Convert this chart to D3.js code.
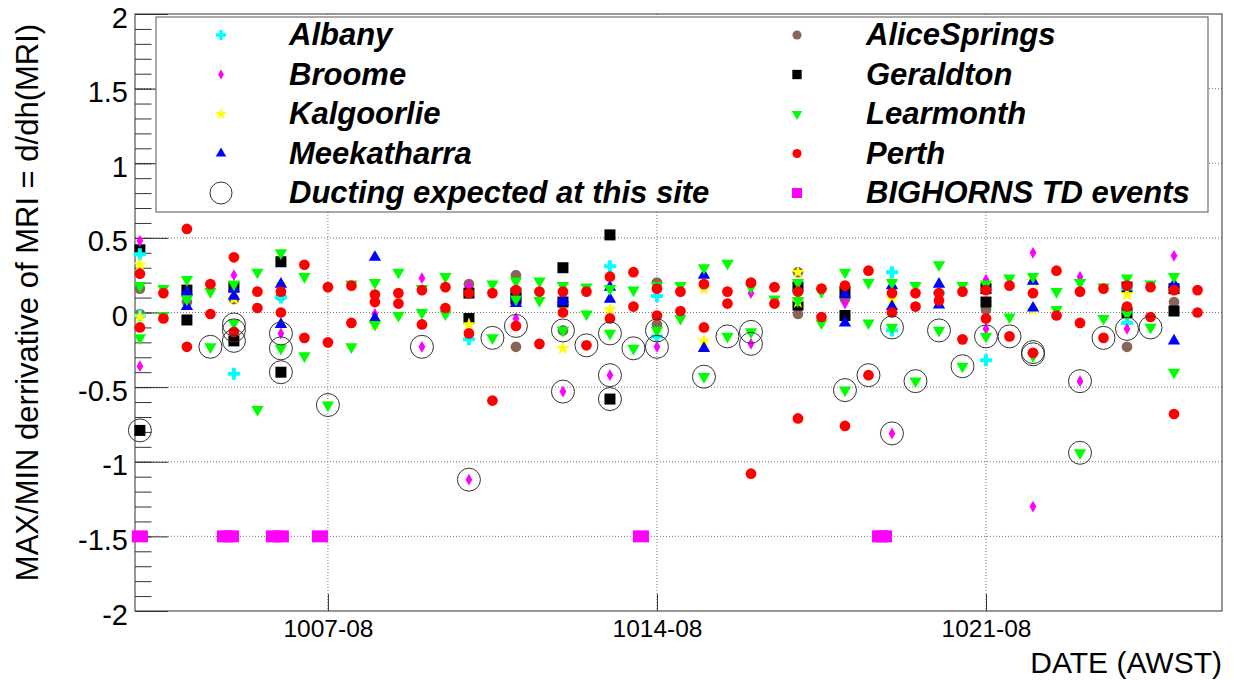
<!DOCTYPE html>
<html>
<head>
<meta charset="utf-8">
<title>MAX/MIN derivative of MRI</title>
<script src="https://d3js.org/d3.v7.min.js"></script>
<style>
  body { margin: 0; background: #fff; }
  text { font-family: Arial, "Liberation Sans", sans-serif; fill: #000; }
  .legend text { font-weight: bold; font-style: italic; font-size: 31px; }
  .grid line { stroke: #777; stroke-dasharray: 1,2; }
  .ytick text { font-size: 29px; }
  .xtick text { font-size: 24.5px; }
</style>
</head>
<body>
<div id="chart"></div>
<script>
// rows: [sounding (MMDD-HH), max derivative, min derivative]
var albany = [["1003-08",0.39,-0.02],["1005-08",null,-0.41],["1006-08",0.10,null],["1010-08",null,-0.18],
  ["1013-08",0.31,null],["1014-08",0.11,-0.16],["1019-08",0.27,-0.12],["1020-08",0.13,null],
  ["1021-08",null,-0.32],["1024-08",0.16,-0.07]];
var broome = [["1003-08",0.48,-0.36],["1005-08",0.25,null],["1006-08",null,-0.14],["1008-08",null,-0.01],
  ["1009-08",0.23,-0.23],["1010-08",0.18,-1.12],["1011-08",null,-0.04],["1012-08",null,-0.53],
  ["1013-08",null,-0.42],["1014-08",null,-0.23],["1016-08",0.13,-0.21],["1018-08",0.06,null],
  ["1019-08",null,-0.81],["1021-08",0.22,-0.11],["1022-08",0.40,-1.30],["1023-08",0.24,-0.46],
  ["1024-08",null,-0.11],["1025-08",0.38,null]];
var kalgoorlie = [["1003-08",0.32,-0.03],["1005-08",0.09,null],["1006-08",0.19,null],["1008-08",null,-0.08],
  ["1010-08",null,-0.08],["1012-08",null,-0.24],["1013-08",0.02,null],["1015-08",0.16,-0.19],
  ["1017-08",0.27,0.07],["1019-08",0.09,null],["1022-08",0.21,0.02],["1024-08",0.12,null]];
var meekatharra = [["1004-08",0.14,0.04],["1005-08",0.16,0.11],["1006-08",0.19,-0.08],["1008-08",0.37,-0.04],
  ["1011-08",0.10,0.06],["1012-08",0.09,0.07],["1013-08",0.17,0.09],["1015-08",0.25,-0.24],
  ["1018-08",0.12,-0.07],["1019-08",0.18,0.04],["1020-08",0.19,0.05],["1022-08",0.21,0.03],
  ["1025-08",0.19,-0.19]];
var aliceSprings = [["1003-08",0.16,-0.01],["1004-08",0.07,null],["1005-08",0.09,null],["1006-08",0.11,null],
  ["1010-08",0.19,null],["1011-08",0.25,-0.23],["1012-08",null,-0.12],["1014-08",0.20,-0.08],
  ["1017-08",0.27,-0.01],["1018-08",0.09,null],["1021-08",0.02,null],["1024-08",null,-0.23],
  ["1025-08",0.07,null]];
var geraldton = [["1003-08",0.42,-0.79],["1004-08",0.15,-0.05],["1005-08",0.17,-0.19],["1006-08",0.34,-0.40],
  ["1010-08",0.13,-0.04],["1011-08",0.13,0.09],["1012-08",0.30,0.07],["1013-08",0.52,-0.58],
  ["1017-08",0.17,0.05],["1018-08",0.14,-0.02],["1021-08",0.16,0.07],["1024-08",0.17,0.00],
  ["1025-08",0.16,0.01]];
var learmonth = [["1003-08",0.18,-0.17],["1003-20",0.16,-0.02],["1004-08",0.22,0.09],["1004-20",0.14,-0.23],
  ["1005-08",0.19,-0.07],["1005-20",0.27,-0.65],["1006-08",0.40,-0.24],["1006-20",0.24,-0.29],
  ["1007-08",null,-0.62],["1007-20",0.19,-0.23],["1008-08",0.20,-0.08],["1008-20",0.27,-0.02],
  ["1009-08",0.16,0.00],["1009-20",0.24,-0.01],["1010-20",0.19,-0.17],["1011-08",0.21,0.09],
  ["1011-20",0.21,0.08],["1012-08",0.18,-0.12],["1012-20",0.17,-0.01],["1013-08",0.16,-0.14],
  ["1013-20",0.15,-0.24],["1014-08",0.18,-0.12],["1014-20",0.18,-0.04],["1015-08",0.30,-0.43],
  ["1015-20",0.33,-0.16],["1016-08",0.17,-0.13],["1016-20",null,0.09],["1017-08",0.20,0.08],
  ["1017-20",0.14,-0.07],["1018-08",0.27,-0.52],["1018-20",0.20,-0.07],["1019-08",0.20,-0.10],
  ["1019-20",0.18,-0.46],["1020-08",0.32,-0.12],["1020-20",0.18,-0.36],["1021-08",0.19,-0.16],
  ["1021-20",0.23,-0.03],["1022-08",0.24,-0.29],["1022-20",0.14,0.02],["1023-08",0.20,-0.94],
  ["1023-20",0.17,-0.04],["1024-08",0.23,-0.01],["1024-20",0.19,-0.10],["1025-08",0.24,-0.40]];
var perth = [["1003-08",0.26,-0.10],["1003-20",0.13,-0.04],["1004-08",0.56,-0.23],["1004-20",0.19,-0.01],
  ["1005-08",0.37,-0.13],["1005-20",0.14,0.03],["1006-08",0.14,0.00],["1006-20",0.32,-0.17],
  ["1007-08",0.17,-0.20],["1007-20",0.18,-0.07],["1008-08",0.12,0.07],["1008-20",0.13,0.06],
  ["1009-08",0.15,-0.08],["1009-20",0.17,0.03],["1010-08",0.13,-0.14],["1010-20",0.13,-0.59],
  ["1011-08",0.15,-0.09],["1011-20",0.14,-0.21],["1012-08",0.14,0.00],["1012-20",0.14,-0.22],
  ["1013-08",0.24,-0.04],["1013-20",0.27,0.04],["1014-08",0.16,-0.02],["1014-20",0.14,0.01],
  ["1015-08",0.19,-0.10],["1015-20",0.14,0.06],["1016-08",0.20,-1.08],["1016-20",0.17,0.06],
  ["1017-08",0.14,-0.71],["1017-20",0.16,-0.03],["1018-08",0.18,-0.76],["1018-20",0.28,-0.42],
  ["1019-08",0.13,0.00],["1019-20",0.13,0.04],["1020-08",0.13,0.08],["1020-20",0.14,-0.18],
  ["1021-08",0.15,-0.04],["1021-20",0.18,-0.16],["1022-08",0.13,-0.27],["1022-20",0.28,-0.02],
  ["1023-08",0.14,-0.07],["1023-20",0.16,-0.17],["1024-08",0.18,0.04],["1024-20",0.17,-0.03],
  ["1025-08",0.15,-0.68],["1025-20",0.15,0.00]];

// sites where ducting was expected: [sounding, value]
var ducting = [["1003-08",-0.79],["1004-20",-0.23],["1005-08",-0.08],["1005-08",-0.12],["1005-08",-0.19],
  ["1006-08",-0.14],["1006-08",-0.24],["1006-08",-0.40],["1007-08",-0.62],["1009-08",-0.23],
  ["1010-08",-1.12],["1010-20",-0.17],["1011-08",-0.09],["1012-08",-0.12],["1012-08",-0.53],
  ["1012-20",-0.22],["1013-08",-0.14],["1013-08",-0.42],["1013-08",-0.58],["1013-20",-0.24],
  ["1014-08",-0.12],["1014-08",-0.23],["1015-08",-0.43],["1015-20",-0.16],["1016-08",-0.13],
  ["1016-08",-0.21],["1018-08",-0.52],["1018-20",-0.42],["1019-08",-0.10],["1019-08",-0.81],
  ["1019-20",-0.46],["1020-08",-0.12],["1020-20",-0.36],["1021-08",-0.16],["1021-20",-0.16],
  ["1022-08",-0.265],["1022-08",-0.28],["1023-08",-0.46],["1023-08",-0.94],["1023-20",-0.17],
  ["1024-08",-0.11],["1024-20",-0.10]];

// BIGHORNS TD events (MMDD-HH:MM), all plotted at -1.5
var tdEvents = ["1003-08:00","1005-03:25","1005-06:30","1006-04:25","1006-08:00","1007-03:55",
  "1013-23:50","1019-01:55","1019-03:55"];
var tdLevel = -1.5;

var xTickLabels = ["1007-08","1014-08","1021-08"];
var xRange = ["1003-05:30","1026-08:30"];

var stations = [
  { name: "AliceSprings", rows: aliceSprings, color: "#876657", shape: "circle" },
  { name: "Geraldton", rows: geraldton, color: "#000000", shape: "square" },
  { name: "Albany", rows: albany, color: "#00ffff", shape: "cross" },
  { name: "Broome", rows: broome, color: "#ff00ff", shape: "diamond" },
  { name: "Kalgoorlie", rows: kalgoorlie, color: "#ffff00", shape: "star" },
  { name: "Meekatharra", rows: meekatharra, color: "#0000ff", shape: "up" },
  { name: "Learmonth", rows: learmonth, color: "#00ff00", shape: "down" },
  { name: "Perth", rows: perth, color: "#ff0000", shape: "circle" }
];

var outerWidth = 1234, outerHeight = 680;
var margin = { top: 14, right: 12, bottom: 69, left: 135 };
var width = outerWidth - margin.left - margin.right;
var height = outerHeight - margin.top - margin.bottom;

var parseSounding = d3.timeParse("%m%d-%H");
var parseFull = d3.timeParse("%m%d-%H:%M");

var x = d3.scaleTime().domain(xRange.map(parseFull)).range([0, width]);
var y = d3.scaleLinear().domain([-2, 2]).range([height, 0]);

function symbolPath(shape) {
  var gen = d3.symbol();
  if (shape == "circle") gen.type(d3.symbolCircle).size(90);
  if (shape == "square") gen.type(d3.symbolSquare).size(121);
  if (shape == "cross") gen.type(d3.symbolCross).size(80);
  if (shape == "diamond") gen.type(d3.symbolDiamond).size(40);
  if (shape == "star") gen.type(d3.symbolStar).size(60);
  if (shape == "up" || shape == "down") gen.type(d3.symbolTriangle).size(66);
  return gen();
}

var svg = d3.select("#chart").append("svg")
    .attr("width", outerWidth)
    .attr("height", outerHeight);

var g = svg.append("g")
    .attr("transform", "translate(" + margin.left + "," + margin.top + ")");

// grid
var grid = g.append("g").attr("class", "grid");
grid.selectAll(".gy")
    .data(d3.range(-1.5, 1.51, 0.5))
    .enter().append("line")
    .attr("x1", 0).attr("x2", width)
    .attr("y1", d => y(d)).attr("y2", d => y(d));
grid.selectAll(".gx")
    .data(xTickLabels.map(parseSounding))
    .enter().append("line")
    .attr("x1", d => x(d)).attr("x2", d => x(d))
    .attr("y1", 0).attr("y2", height);

// y axis: minor + major ticks drawn inward
var yMinor = g.append("g").attr("class", "ytick")
    .call(d3.axisLeft(y).tickValues(d3.range(-20, 21).map(i => i / 10)).tickSize(-16.5).tickFormat(""));
var yMajor = g.append("g").attr("class", "ytick")
    .call(d3.axisLeft(y).tickValues([-2, -1.5, -1, -0.5, 0, 0.5, 1, 1.5, 2])
      .tickSize(-33).tickPadding(7).tickFormat(d => String(d)));
yMajor.selectAll("text").attr("dy", "0.45em");
g.selectAll(".ytick .domain").remove();
g.selectAll(".ytick line").attr("stroke", "#333");

// x axis
var xAxis = g.append("g").attr("class", "xtick")
    .attr("transform", "translate(0," + height + ")")
    .call(d3.axisBottom(x).tickValues(xTickLabels.map(parseSounding))
      .tickSize(-17).tickPadding(9).tickFormat(d3.timeFormat("%m%d-%H")));
xAxis.select(".domain").remove();
xAxis.selectAll("line").attr("stroke", "#333");

// frame
g.append("rect")
    .attr("width", width).attr("height", height)
    .attr("fill", "none").attr("stroke", "#333").attr("stroke-width", 1);

// points
stations.forEach(function(st) {
  var pts = [];
  st.rows.forEach(function(r) {
    if (r[1] != null) pts.push({ t: parseSounding(r[0]), v: r[1] });
    if (r[2] != null) pts.push({ t: parseSounding(r[0]), v: r[2] });
  });
  g.append("g").selectAll("path")
      .data(pts)
      .enter().append("path")
      .attr("d", symbolPath(st.shape))
      .attr("fill", st.color)
      .attr("transform", d => "translate(" + x(d.t) + "," + y(d.v) + ")" + (st.shape == "down" ? " rotate(180)" : ""));
});

g.append("g").selectAll("circle")
    .data(ducting)
    .enter().append("circle")
    .attr("cx", d => x(parseSounding(d[0])))
    .attr("cy", d => y(d[1]))
    .attr("r", 11.5)
    .attr("fill", "none")
    .attr("stroke", "#333")
    .attr("stroke-width", 1);

g.append("g").selectAll("rect")
    .data(tdEvents)
    .enter().append("rect")
    .attr("x", d => x(parseFull(d)) - 8)
    .attr("y", y(tdLevel) - 6)
    .attr("width", 16).attr("height", 12)
    .attr("fill", "#ff00ff");

// axis titles
svg.append("text")
    .attr("transform", "translate(38," + (margin.top + height / 2 - 10) + ") rotate(-90)")
    .attr("text-anchor", "middle")
    .style("font-size", "31px")
    .text("MAX/MIN derrivative of MRI = d/dh(MRI)");

svg.append("text")
    .attr("x", margin.left + width)
    .attr("y", 673)
    .attr("text-anchor", "end")
    .style("font-size", "30px")
    .text("DATE (AWST)");

// legend
var legend = svg.append("g").attr("class", "legend");
legend.append("rect")
    .attr("x", 156).attr("y", 17)
    .attr("width", 1052).attr("height", 195)
    .attr("fill", "#fff").attr("stroke", "#555").attr("stroke-width", 1);

var byName = {};
stations.forEach(s => byName[s.name] = s);
var legendItems = [
  { label: "Albany", col: 0, row: 0, st: byName.Albany },
  { label: "Broome", col: 0, row: 1, st: byName.Broome },
  { label: "Kalgoorlie", col: 0, row: 2, st: byName.Kalgoorlie },
  { label: "Meekatharra", col: 0, row: 3, st: byName.Meekatharra },
  { label: "Ducting expected at this site", col: 0, row: 4, kind: "ring" },
  { label: "AliceSprings", col: 1, row: 0, st: byName.AliceSprings },
  { label: "Geraldton", col: 1, row: 1, st: byName.Geraldton },
  { label: "Learmonth", col: 1, row: 2, st: byName.Learmonth },
  { label: "Perth", col: 1, row: 3, st: byName.Perth },
  { label: "BIGHORNS TD events", col: 1, row: 4, kind: "td" }
];
var markerX = [221, 797], textX = [289, 866];
var rowY = d => 35 + d * 39.5;

legendItems.forEach(function(it) {
  var mx = markerX[it.col], my = rowY(it.row);
  if (it.kind == "ring") {
    legend.append("circle").attr("cx", mx).attr("cy", my).attr("r", 11)
      .attr("fill", "none").attr("stroke", "#333");
  } else if (it.kind == "td") {
    legend.append("rect").attr("x", mx - 5).attr("y", my - 5).attr("width", 10).attr("height", 10)
      .attr("fill", "#ff00ff");
  } else {
    legend.append("path").attr("d", symbolPath(it.st.shape)).attr("fill", it.st.color)
      .attr("transform", "translate(" + mx + "," + my + ")" + (it.st.shape == "down" ? " rotate(180)" : "") + " scale(0.85)");
  }
  legend.append("text").attr("x", textX[it.col]).attr("y", my).attr("dy", "0.33em").text(it.label);
});
</script>
</body>
</html>
